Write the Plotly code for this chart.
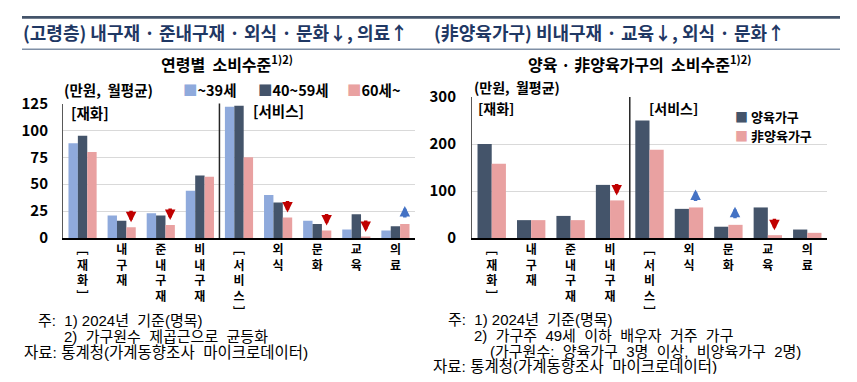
import plotly.graph_objects as go

# ---------------- data ----------------
categories = ["[재화]", "내구재", "준내구재", "비내구재", "[서비스]", "외식", "문화", "교육", "의료"]

age_names = ["~39세", "40~59세", "60세~"]
age_under39 = [88, 21, 23, 44, 122, 40, 16, 8, 7]
age_40_59 = [95, 16, 21, 58, 123, 33, 13, 22, 11]
age_60plus = [80, 10, 12, 57, 75, 19, 7, 1, 13]

hh_names = ["양육가구", "非양육가구"]
hh_parenting = [200, 38, 47, 113, 250, 62, 24, 65, 18]
hh_nonparenting = [158, 38, 38, 80, 188, 65, 28, 6, 11]

left_down = ["내구재", "준내구재", "외식", "문화", "교육"]
left_up = ["의료"]
right_down = ["비내구재", "교육"]
right_up = ["외식", "문화"]

left_ticks = [0, 25, 50, 75, 100, 125]
right_ticks = [0, 100, 200, 300]

# ---------------- style ----------------
PAGE_OFF = 8                      # default page body margin
W, H = 857 - 2 * PAGE_OFF, 382 - 2 * PAGE_OFF
C_LB = "#8FAADC"
C_DK = "#44546A"
C_PK = "#E9A1A1"
C_RED = "#C00000"
C_BLUE = "#4472C4"
NAVY = "#1F3864"
KFONT = "Noto Sans CJK KR"

def px_x(p):
    return (p - PAGE_OFF) / W

def px_y(p):
    return 1 - (p - PAGE_OFF) / H

LX = [px_x(63), px_x(415)]
RX = [px_x(472), px_x(827)]
LY = [px_y(238), px_y(103.5)]
RY = [px_y(238), px_y(97)]
BARGAP_L = 0.28
BARGAP_R = 0.33

def vert(label):
    m = {"[": "﹇", "]": "﹈"}
    return "<br>".join(m.get(c, c) for c in label)

fig = go.Figure()
for name, vals, col in zip(age_names, [age_under39, age_40_59, age_60plus], [C_LB, C_DK, C_PK]):
    fig.add_trace(go.Bar(x=categories, y=vals, name=name, marker_color=col,
                         xaxis="x", yaxis="y", showlegend=False))
for name, vals, col in zip(hh_names, [hh_parenting, hh_nonparenting], [C_DK, C_PK]):
    fig.add_trace(go.Bar(x=categories, y=vals, name=name, marker_color=col,
                         xaxis="x2", yaxis="y2", showlegend=False))

tickfont = dict(family=KFONT, size=12, color="black", weight="bold")
yfont = dict(family=KFONT, size=15, color="black", weight="bold")

RULES = [(17.5, 2.5, "#44546A"), (49, 1.2, "#7F8FA6")]

shapes = []
# divider lines between goods and services
for xr, yr in [("x", "y domain"), ("x2", "y2 domain")]:
    shapes.append(dict(type="line", xref=xr, yref=yr, x0=3.5, x1=3.5, y0=0, y1=1,
                       line=dict(color="#262626", width=1.5)))
# header rules
for y, t, col in RULES:
    shapes.append(dict(type="line", xref="paper", yref="paper", layer="above",
                       x0=px_x(22), x1=px_x(840), y0=px_y(y), y1=px_y(y),
                       line=dict(color=col, width=t)))

fig.update_layout(
    template="none",
    width=W, height=H, autosize=False,
    margin=dict(l=0, r=0, t=0, b=0, pad=0),
    paper_bgcolor="white", plot_bgcolor="white",
    showlegend=False,
    barmode="group", bargap=BARGAP_L, bargroupgap=0,
    shapes=shapes,
    xaxis=dict(domain=LX, anchor="y", type="category", tickvals=categories,
               ticktext=[vert(c) for c in categories], tickfont=tickfont,
               showline=True, linecolor="black", linewidth=1.5, ticks="",
               showgrid=False, automargin=False, zeroline=False),
    yaxis=dict(domain=LY, anchor="x", range=[0, 125], tickvals=left_ticks,
               tickfont=yfont, showgrid=True, gridcolor="#D9D9D9", gridwidth=1,
               showline=True, linecolor="#595959", linewidth=1, ticks="",
               ticklabelstandoff=11, zeroline=False, automargin=False),
    xaxis2=dict(domain=RX, anchor="y2", type="category", tickvals=categories,
                ticktext=[vert(c) for c in categories], tickfont=tickfont,
                showline=True, linecolor="black", linewidth=1.5, ticks="",
                showgrid=False, automargin=False, zeroline=False),
    yaxis2=dict(domain=RY, anchor="x2", range=[0, 300], tickvals=right_ticks,
                tickfont=yfont, showgrid=True, gridcolor="#D9D9D9", gridwidth=1,
                showline=True, linecolor="#595959", linewidth=1, ticks="",
                ticklabelstandoff=12, zeroline=False, automargin=False),
)

# header rules also drawn as filled annotation boxes (same place)
for y, t, col in RULES:
    fig.add_annotation(xref="paper", yref="paper", x=px_x(22), y=px_y(y),
                       xanchor="left", yanchor="middle", showarrow=False,
                       text=" ", font=dict(size=1, color=col),
                       width=818, height=max(1, round(t)), borderpad=0, borderwidth=0,
                       bgcolor=col)

def txt(x, y, s, size=14, color="black", bold=False, anchor="left", family=KFONT):
    fig.add_annotation(xref="paper", yref="paper", x=px_x(x), y=px_y(y), text=s,
                       showarrow=False, xanchor=anchor, yanchor="middle", align="left",
                       font=dict(family=family, size=size, color=color,
                                 weight="bold" if bold else "normal"))

# titles
txt(21, 32, "(고령층) 내구재 · 준내구재 · 외식 · 문화↓, 의료↑", size=18, color=NAVY, bold=True)
txt(432, 32, "(非양육가구) 비내구재 · 교육↓, 외식 · 문화↑", size=18, color=NAVY, bold=True)
txt(227, 63, "연령별  소비수준<sup>1)2)</sup>", size=16, bold=True, anchor="center")
txt(640, 63, "양육 · 非양육가구의  소비수준<sup>1)2)</sup>", size=16, bold=True, anchor="center")

# units
txt(62, 89, "(만원,  월평균)", size=14.5, bold=True)
txt(472, 87, "(만원,  월평균)", size=14, bold=True)

# legends
for x0, name, col in zip([181, 256, 345], age_names, [C_LB, C_DK, C_PK]):
    txt(x0, 89, f"<span style='color:{col}'>■</span>{name}", size=14.5, bold=True)
for y0, name, col in zip([116, 135], hh_names, [C_DK, C_PK]):
    txt(733, y0, f"<span style='color:{col}'>■</span> {name}", size=13, bold=True)

# section labels
txt(69, 112, "[재화]", size=14.5, bold=True)
txt(251, 111, "[서비스]", size=14.5, bold=True)
txt(476, 108, "[재화]", size=14, bold=True)
txt(647, 108, "[서비스]", size=14, bold=True)

# footnotes
FN = "Liberation Sans, Noto Sans CJK KR"
txt(36, 320, "주:  1) 2024년  기준(명목)", size=15, family=FN)
txt(62, 336, "2)  가구원수  제곱근으로  균등화", size=15, family=FN)
txt(22, 352, "자료: 통계청(가계동향조사  마이크로데이터)", size=15.5, family=FN)
txt(446, 319, "주:  1) 2024년  기준(명목)", size=15, family=FN)
txt(472, 335, "2)  가구주  49세  이하  배우자  거주  가구", size=15, family=FN)
txt(488, 351, "(가구원수:  양육가구  3명  이상,  비양육가구  2명)", size=15, family=FN)
txt(431, 366, "자료: 통계청(가계동향조사  마이크로데이터)", size=15.5, family=FN)

# arrows
def add_arrows(cats, vals, xr, yr, dom, bargap, nser, idx, color, up):
    pw = (dom[1] - dom[0]) * W
    bw = pw / len(categories) * (1 - bargap) / nser
    shift = (idx - (nser - 1) / 2) * bw
    for c in cats:
        v = vals[categories.index(c)]
        if up:
            fig.add_annotation(xref=xr, yref=yr, x=c, y=v, xshift=shift, yshift=18,
                               ax=0, ay=13, text="",
                               showarrow=True, arrowhead=2, arrowsize=0.6,
                               arrowwidth=3.5, arrowcolor=color)
        else:
            fig.add_annotation(xref=xr, yref=yr, x=c, y=v, xshift=shift, yshift=5,
                               ax=0, ay=-13, text="",
                               showarrow=True, arrowhead=2, arrowsize=0.6,
                               arrowwidth=3.5, arrowcolor=color)

add_arrows(left_down, age_60plus, "x", "y", LX, BARGAP_L, 3, 2, C_RED, False)
add_arrows(left_up, age_60plus, "x", "y", LX, BARGAP_L, 3, 2, C_BLUE, True)
add_arrows(right_down, hh_nonparenting, "x2", "y2", RX, BARGAP_R, 2, 1, C_RED, False)
add_arrows(right_up, hh_nonparenting, "x2", "y2", RX, BARGAP_R, 2, 1, C_BLUE, True)

fig.write_html("out.html")
